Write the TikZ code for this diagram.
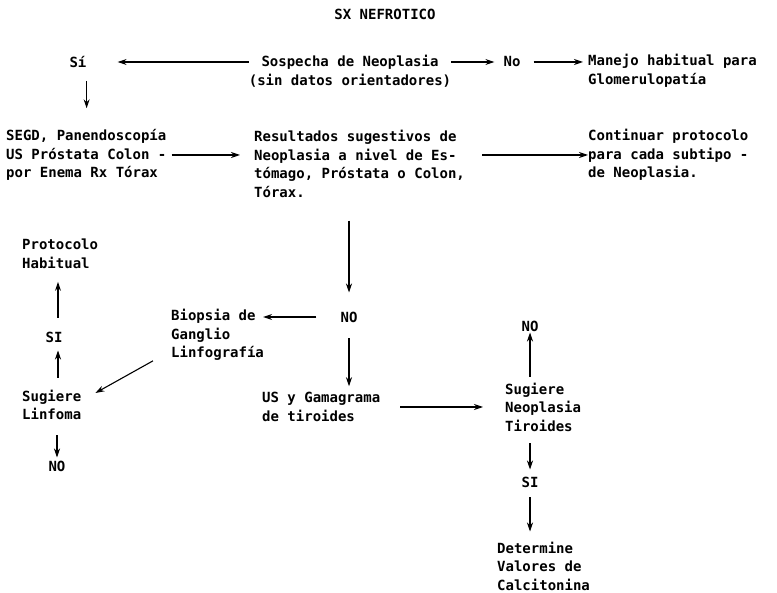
\documentclass[tikz,border=0pt]{standalone}
\usepackage{fontspec}
\setmonofont{DejaVu Sans Mono}
\usetikzlibrary{arrows.meta}
\begin{document}
\begin{tikzpicture}[x=1pt,y=-1pt,
  every node/.style={font=\ttfamily\bfseries\fontsize{14}{18.5}\selectfont, inner sep=0pt},
  txt/.style={align=left,anchor=west},
  arr/.style={-{Stealth[length=9pt,width=6pt]}, line width=1.1pt}]
\useasboundingbox (0,0) rectangle (777,593);
\node (title) at (385,14) {SX NEFROTICO};
\node (si1) at (78,62) {Sí};
\node[align=center] (sosp) at (350,71) {Sospecha de Neoplasia\\(sin datos orientadores)};
\node (no1) at (512,62) {No};
\node[txt] (man) at (588,71) {Manejo habitual para\\Glomerulopatía};
\node[txt] (segd) at (6,155) {SEGD, Panendoscopía\\US Próstata Colon -\\por Enema Rx Tórax};
\node[txt] (res) at (254,164) {Resultados sugestivos de\\Neoplasia a nivel de Es-\\tómago, Próstata o Colon,\\Tórax.};
\node[txt] (cont) at (588,155) {Continuar protocolo\\para cada subtipo -\\de Neoplasia.};
\node (no2) at (349,317) {NO};
\node[txt] (biop) at (171,335) {Biopsia de\\Ganglio\\Linfografía};
\node[txt] (prot) at (22,254) {Protocolo\\Habitual};
\node (si2) at (54,337) {SI};
\node[txt] (sugl) at (22,405) {Sugiere\\Linfoma};
\node (no3) at (57,466) {NO};
\node[txt] (us) at (262,407) {US y Gamagrama\\de tiroides};
\node[txt] (sugn) at (505,407) {Sugiere\\Neoplasia\\Tiroides};
\node (no4) at (530,326) {NO};
\node (si3) at (530,482) {SI};
\node[txt] (det) at (497,566) {Determine\\Valores de\\Calcitonina};

\draw[arr, shorten >=31pt] (sosp.west |- si1) -- (si1.east);
\draw[arr, shorten >=9pt] (sosp.east |- no1) -- (no1.west);
\draw[arr, shorten <=13pt, shorten >=5pt] (no1.east) -- (man.west |- no1);
\draw[arr, shorten <=13pt, shorten >=21pt] (si1.south east) -- (si1.south east |- segd.north);
\draw[arr, shorten <=5pt, shorten >=14pt] (segd.east) -- (res.west |- segd.east);
\draw[arr, shorten <=17pt, shorten >=0pt] (res.east |- cont.west) -- (cont.west);
\draw[arr, shorten <=23pt, shorten >=19pt] (no2 |- res.south) -- (no2.north);
\draw[arr, shorten <=24pt, shorten >=-1pt] (no2.west) -- (biop.east |- no2);
\draw[arr] ([xshift=-18pt]biop.south west) -- ([xshift=14pt,yshift=12pt]sugl.east);
\draw[arr, shorten <=14pt, shorten >=13pt] ([xshift=4pt]si2.north) -- ([xshift=4pt]si2.north |- prot.south);
\draw[arr, shorten <=12pt, shorten >=8pt] ([xshift=4pt]si2.south |- sugl.north) -- ([xshift=4pt]si2.south);
\draw[arr, shorten <=15pt, shorten >=3pt] (no3 |- sugl.south) -- (no3.north);
\draw[arr, shorten <=16pt, shorten >=6pt] (no2.south) -- (no2 |- us.north);
\draw[arr, shorten <=20pt, shorten >=22pt] (us.east) -- (sugn.west);
\draw[arr, shorten <=6pt, shorten >=1pt] (no4 |- sugn.north) -- (no4.south);
\draw[arr, shorten <=12pt, shorten >=7pt] (si3 |- sugn.south) -- (si3.north);
\draw[arr, shorten <=10pt, shorten >=10pt] (si3.south) -- (si3 |- det.north);
\end{tikzpicture}
\end{document}
